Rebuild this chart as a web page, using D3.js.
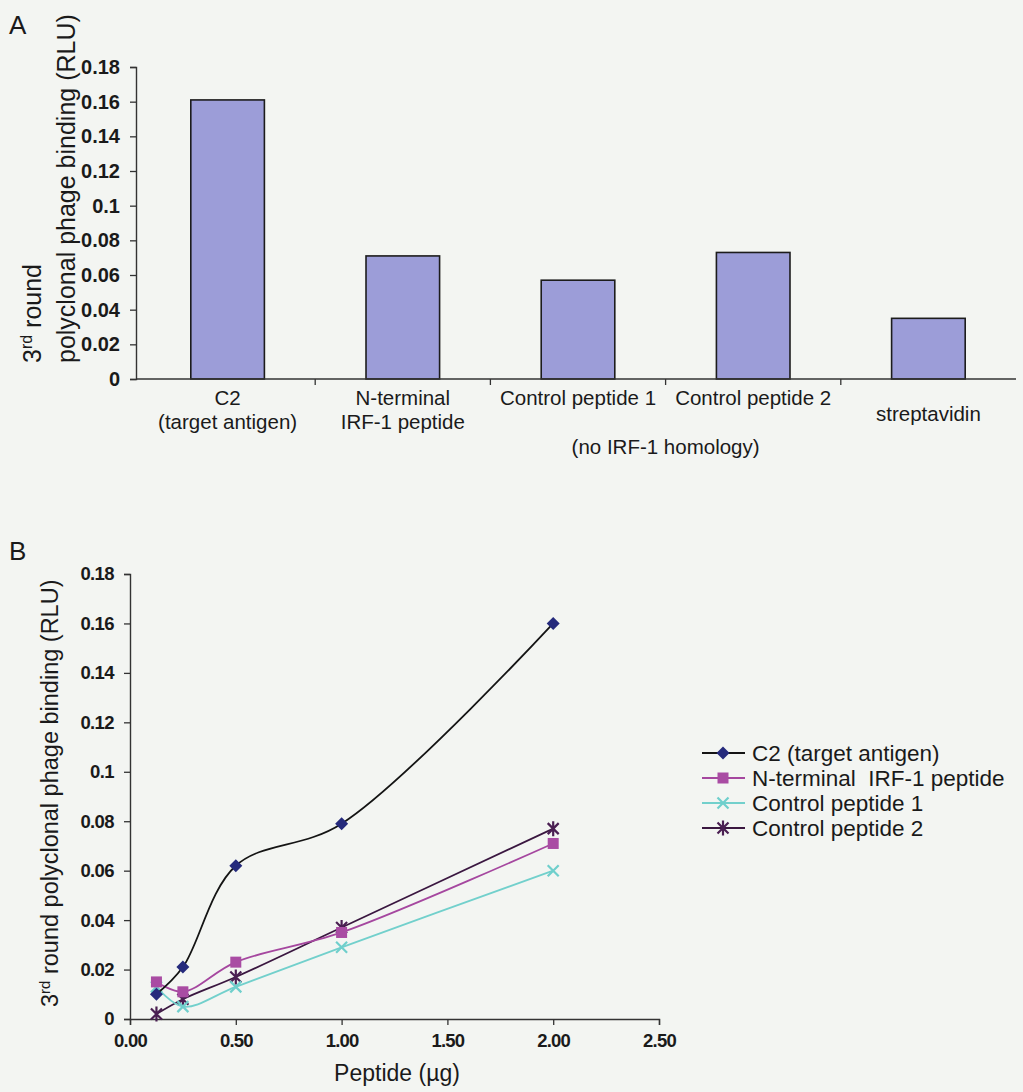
<!DOCTYPE html>
<html>
<head>
<meta charset="utf-8">
<script src="https://cdn.jsdelivr.net/npm/d3@7"></script>
<style>
  html, body { margin: 0; padding: 0; background: #f3f5f2; }
  svg { display: block; }
  text { font-family: "Liberation Sans", Arial, sans-serif; fill: #1a1a1a; }
</style>
</head>
<body>
<svg id="fig" width="1023" height="1092"></svg>
<script>
// ---- Panel A: bar chart data ----
const barCategories = ["C2", "N-terminal IRF-1 peptide", "Control peptide 1", "Control peptide 2", "streptavidin"];
const barLabelLines = [["C2", "(target antigen)"], ["N-terminal", "IRF-1 peptide"], ["Control peptide 1"], ["Control peptide 2"], ["streptavidin"]];
const barValues = [0.161, 0.071, 0.057, 0.073, 0.035];
const sharedNote = "(no IRF-1 homology)";

// ---- Panel B: dose-response data ----
const doses = [0.125, 0.25, 0.5, 1, 2];
const seriesNames = ["C2 (target antigen)", "N-terminal  IRF-1 peptide", "Control peptide 1", "Control peptide 2"];
const c2Values = [0.010, 0.021, 0.062, 0.079, 0.160];
const nTermValues = [0.015, 0.011, 0.023, 0.035, 0.071];
const control1Values = [0.013, 0.005, 0.013, 0.029, 0.060];
const control2Values = [0.002, 0.008, 0.017, 0.037, 0.077];

// ---- Shared tick labels ----
const yTickValues = [0, 0.02, 0.04, 0.06, 0.08, 0.1, 0.12, 0.14, 0.16, 0.18];
const yTickLabels = ["0", "0.02", "0.04", "0.06", "0.08", "0.1", "0.12", "0.14", "0.16", "0.18"];
const xTickValuesB = [0, 0.5, 1, 1.5, 2, 2.5];
const xTickLabelsB = ["0.00", "0.50", "1.00", "1.50", "2.00", "2.50"];

const svg = d3.select("#fig");

// ================= Panel A =================
const gA = svg.append("g");
gA.append("text").attr("x", 9).attr("y", 34).attr("font-size", 26).text("A");

const yA = d3.scaleLinear().domain([0, 0.18]).range([379, 67]);
const xA = d3.scaleBand().domain(barCategories).range([140, 1016]).paddingInner(0).paddingOuter(0);
const axisLeftX = 136;

// bars
const barW = xA.bandwidth() * 0.42;
gA.selectAll("rect.bar").data(barCategories).join("rect")
  .attr("class", "bar")
  .attr("x", d => xA(d) + xA.bandwidth() / 2 - barW / 2)
  .attr("y", (d, i) => yA(barValues[i]))
  .attr("width", barW)
  .attr("height", (d, i) => yA(0) - yA(barValues[i]))
  .attr("fill", "#9c9dd8")
  .attr("stroke", "#1c1c1c")
  .attr("stroke-width", 1.6);

// value axis
const yAxisA = d3.axisLeft(yA).tickValues(yTickValues)
  .tickFormat((d, i) => yTickLabels[i]).tickSize(6).tickPadding(10);
const gyA = gA.append("g").attr("transform", `translate(${axisLeftX},0)`).call(yAxisA);
gyA.select(".domain").attr("stroke", "#333").attr("stroke-width", 1.4);
gyA.selectAll(".tick line").attr("stroke", "#333").attr("stroke-width", 1.3);
gyA.selectAll(".tick text").attr("font-size", 20).attr("font-weight", "bold")
  .attr("font-family", "Liberation Sans, Arial, sans-serif").attr("fill", "#1a1a1a");

// category axis
gA.append("line").attr("x1", axisLeftX).attr("x2", 1016)
  .attr("y1", yA(0)).attr("y2", yA(0)).attr("stroke", "#333").attr("stroke-width", 1.5);
const boundaries = barCategories.slice(1).map(d => xA(d));
gA.selectAll("line.ctick").data(boundaries).join("line")
  .attr("class", "ctick")
  .attr("x1", d => d).attr("x2", d => d)
  .attr("y1", yA(0)).attr("y2", yA(0) + 6)
  .attr("stroke", "#333").attr("stroke-width", 1.3);

const catLabelBaselines = [405, 429];
barCategories.forEach((c, i) => {
  const lines = barLabelLines[i];
  const cx = xA(c) + xA.bandwidth() / 2;
  lines.forEach((ln, j) => {
    let y = catLabelBaselines[j];
    if (c === "streptavidin") y = 421;
    gA.append("text").attr("x", cx).attr("y", y)
      .attr("text-anchor", "middle").attr("font-size", 20.5).text(ln);
  });
});
// note shared by both control peptides, centered on their common boundary
gA.append("text").attr("x", xA("Control peptide 2")).attr("y", 454)
  .attr("text-anchor", "middle").attr("font-size", 20.5).text(sharedNote);

// value axis title (two lines)
const titleA = gA.append("g").attr("transform", "translate(0,363) rotate(-90)");
const t1 = titleA.append("text").attr("x", 0).attr("y", 41).attr("font-size", 25);
t1.append("tspan").text("3");
t1.append("tspan").attr("font-size", 16).attr("dy", -9).text("rd");
t1.append("tspan").attr("dy", 9).text(" round");
titleA.append("text").attr("x", 0).attr("y", 75).attr("font-size", 25)
  .text("polyclonal phage binding (RLU)");

// ================= Panel B =================
const gB = svg.append("g");
gB.append("text").attr("x", 9).attr("y", 560).attr("font-size", 26).text("B");

const xB = d3.scaleLinear().domain([0, 2.5]).range([130, 659]);
const yB = d3.scaleLinear().domain([0, 0.18]).range([1019, 574]);

const yAxisB = d3.axisLeft(yB).tickValues(yTickValues)
  .tickFormat((d, i) => yTickLabels[i]).tickSize(6).tickPadding(10);
const gyB = gB.append("g").attr("transform", `translate(${xB(0)},0)`).call(yAxisB);
gyB.select(".domain").attr("stroke", "#333").attr("stroke-width", 1.4);
gyB.selectAll(".tick line").attr("stroke", "#333").attr("stroke-width", 1.3);
gyB.selectAll(".tick text").attr("font-size", 18.5).attr("font-weight", "bold")
  .attr("letter-spacing", -0.6)
  .attr("font-family", "Liberation Sans, Arial, sans-serif").attr("fill", "#1a1a1a");

const xAxisB = d3.axisBottom(xB).tickValues(xTickValuesB)
  .tickFormat((d, i) => xTickLabelsB[i]).tickSize(6).tickPadding(9);
const gxB = gB.append("g").attr("transform", `translate(0,${yB(0)})`).call(xAxisB);
gxB.select(".domain").attr("stroke", "#333").attr("stroke-width", 1.4);
gxB.selectAll(".tick line").attr("stroke", "#333").attr("stroke-width", 1.3);
gxB.selectAll(".tick text").attr("font-size", 18.5).attr("font-weight", "bold")
  .attr("letter-spacing", -0.8)
  .attr("font-family", "Liberation Sans, Arial, sans-serif").attr("fill", "#1a1a1a");

gB.append("text").attr("x", 397).attr("y", 1081).attr("text-anchor", "middle")
  .attr("font-size", 23).text("Peptide (\u00b5g)");

const titleB = gB.append("text").attr("transform", "translate(58,1007) rotate(-90)")
  .attr("font-size", 23.5);
titleB.append("tspan").text("3");
titleB.append("tspan").attr("font-size", 15).attr("dy", -8).text("rd");
titleB.append("tspan").attr("dy", 8).text(" round polyclonal phage binding (RLU)");

// series styling
const series = [
  { name: seriesNames[0], values: c2Values, line: "#141414", mark: "#252a7c", shape: "diamond" },
  { name: seriesNames[1], values: nTermValues, line: "#a5479f", mark: "#a94ca3", shape: "square" },
  { name: seriesNames[2], values: control1Values, line: "#72d0cc", mark: "#6fcfcc", shape: "cross" },
  { name: seriesNames[3], values: control2Values, line: "#3a1740", mark: "#4a1f52", shape: "star" }
];

const lineGen = d3.line()
  .x(d => xB(d[0])).y(d => yB(d[1]))
  .curve(d3.curveCatmullRom.alpha(0.5));

function drawMarker(g, shape, color, x, y) {
  if (shape === "diamond") {
    g.append("path").attr("d", "M0,-6.5L6.5,0L0,6.5L-6.5,0Z")
      .attr("transform", `translate(${x},${y})`).attr("fill", color);
  } else if (shape === "square") {
    g.append("rect").attr("x", x - 5.5).attr("y", y - 5.5).attr("width", 11).attr("height", 11)
      .attr("fill", color);
  } else if (shape === "cross") {
    g.append("path").attr("d", `M${x - 5.5},${y - 5.5}L${x + 5.5},${y + 5.5}M${x - 5.5},${y + 5.5}L${x + 5.5},${y - 5.5}`)
      .attr("stroke", color).attr("stroke-width", 2.2);
  } else if (shape === "star") {
    g.append("path").attr("d",
      `M${x - 5.5},${y - 5.5}L${x + 5.5},${y + 5.5}M${x - 5.5},${y + 5.5}L${x + 5.5},${y - 5.5}M${x},${y - 7.5}L${x},${y + 7.5}`)
      .attr("stroke", color).attr("stroke-width", 2.2);
  }
}

// draw in reverse so the C2 curve sits on top
series.slice().reverse().forEach(s => {
  const pts = doses.map((d, i) => [d, s.values[i]]);
  gB.append("path").attr("d", lineGen(pts)).attr("fill", "none")
    .attr("stroke", s.line).attr("stroke-width", 1.8);
  const gm = gB.append("g");
  pts.forEach(p => drawMarker(gm, s.shape, s.mark, xB(p[0]), yB(p[1])));
});

// legend
const legend = gB.append("g");
series.forEach((s, i) => {
  const y = 753 + i * 25;
  legend.append("line").attr("x1", 702).attr("x2", 745).attr("y1", y).attr("y2", y)
    .attr("stroke", s.line).attr("stroke-width", 1.8);
  drawMarker(legend, s.shape, s.mark, 723, y);
  legend.append("text").attr("x", 752).attr("y", y + 8).attr("font-size", 22.5)
    .attr("xml:space", "preserve").style("white-space", "pre").text(s.name);
});
</script>
</body>
</html>
